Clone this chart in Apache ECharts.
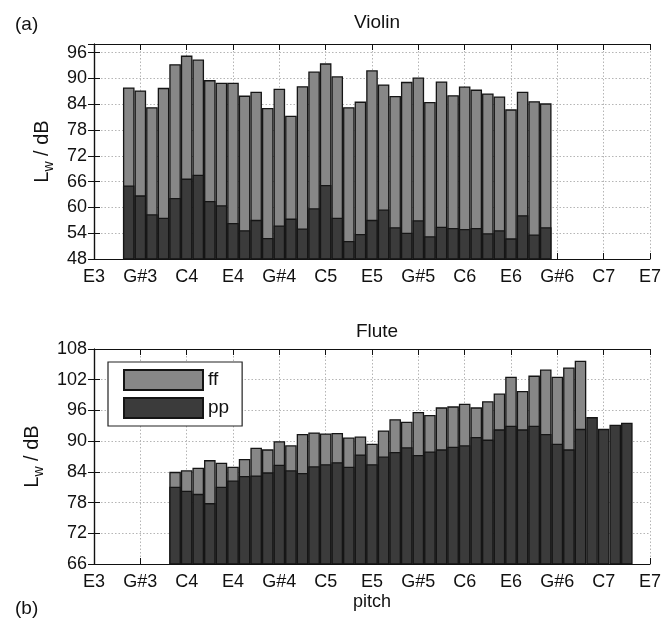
<!DOCTYPE html>
<html>
<head>
<meta charset="utf-8">
<script src="https://cdn.jsdelivr.net/npm/echarts@6/dist/echarts.min.js"></script>
<style>
  html, body { margin: 0; padding: 0; background: #fff; }
  #chart { width: 664px; height: 623px; }
</style>
</head>
<body>
<div id="chart"></div>
<script>
// pitch axis: semitones above E3 (0 = E3 ... 48 = E7), ticks every 4 semitones
const pitchTicks = ["E3", "G#3", "C4", "E4", "G#4", "C5", "E5", "G#5", "C6", "E6", "G#6", "C7", "E7"];

// Violin: G3 .. G6
const violinStart = 3;
const violinFF = [87.9, 87.2, 83.3, 87.8, 93.3, 95.3, 94.4, 89.6, 89.0, 89.0,
  86.0, 86.9, 83.1, 87.6, 81.3, 88.2, 91.6, 93.5, 90.5, 83.3,
  84.6, 91.9, 88.6, 85.9, 89.2, 90.2, 84.5, 89.3, 86.1, 88.1,
  87.4, 86.5, 85.8, 82.8, 86.9, 84.7, 84.2];
const violinPP = [65.1, 62.8, 58.4, 57.6, 62.2, 66.7, 67.6, 61.5, 60.5, 56.4,
  54.7, 57.1, 52.9, 55.8, 57.4, 55.1, 59.8, 65.2, 57.6, 52.2,
  53.8, 57.1, 59.5, 55.4, 54.1, 57.0, 53.3, 55.5, 55.2, 55.0,
  55.2, 54.0, 54.7, 52.8, 58.2, 53.7, 55.4];

// Flute: B3 .. D7 (ff only up to A#6)
const fluteStart = 7;
const fluteFF = [84.0, 84.3, 84.8, 86.3, 85.8, 85.0, 86.5, 88.7, 88.4, 90.0,
  89.2, 91.4, 91.7, 91.5, 91.6, 90.7, 90.9, 89.5, 92.1, 94.3,
  93.8, 95.7, 95.1, 96.6, 96.8, 97.3, 96.6, 97.8, 99.3, 102.6,
  99.8, 102.8, 104.0, 102.6, 104.4, 105.7];
const flutePP = [81.1, 80.3, 79.7, 77.9, 81.1, 82.3, 83.2, 83.3, 83.9, 85.4,
  84.3, 83.8, 85.1, 85.5, 85.9, 85.0, 87.4, 85.5, 87.0, 87.9,
  88.8, 87.3, 88.0, 88.4, 88.9, 89.2, 90.8, 90.3, 92.3, 93.0,
  92.3, 93.0, 91.4, 89.5, 88.4, 92.4, 94.7, 92.4, 93.2, 93.6];

const font = "Liberation Sans, Arial, sans-serif";
const plotLeft = 94, plotWidth = 556;
const barW = plotWidth / 48;

function pairs(start, arr) {
  return arr.map((v, i) => [start + i, v]);
}

const frame = { show: true, lineStyle: { color: "#111", width: 1.2 } };
const grid = { show: true, lineStyle: { color: "#b5b5b5", width: 1, type: [1.5, 2] } };
const tick = { show: true, inside: true, length: 6, lineStyle: { color: "#111", width: 1 } };

function xAxes(gi, withName) {
  return [
    {
      type: "value", gridIndex: gi, position: "bottom", min: 0, max: 48, interval: 4,
      axisLine: frame, axisTick: tick, splitLine: grid,
      axisLabel: {
        margin: 9, fontSize: 18, fontFamily: font, color: "#111",
        formatter: v => pitchTicks[v / 4]
      },
      name: withName ? "pitch" : "", nameLocation: "middle", nameGap: 29,
      nameTextStyle: { fontSize: 18, fontFamily: font, color: "#111" }
    },
    {
      type: "value", gridIndex: gi, position: "top", min: 0, max: 48, interval: 4,
      axisLine: frame, axisTick: tick, splitLine: { show: false }, axisLabel: { show: false }
    }
  ];
}

function yAxes(gi, min, max) {
  return [
    {
      type: "value", gridIndex: gi, position: "left", min: min, max: max, interval: 6,
      axisLine: frame, axisTick: tick, splitLine: grid,
      axisLabel: { margin: 7, fontSize: 18, fontFamily: font, color: "#111", showMaxLabel: max % 6 === 0 },
      name: "L{s|w} / dB", nameLocation: "middle", nameRotate: 90, nameGap: 56,
      nameTextStyle: {
        fontSize: 20, fontFamily: font, color: "#111", lineHeight: 27, verticalAlign: "top",
        rich: { s: { fontSize: 14, fontFamily: font, color: "#111", lineHeight: 27, verticalAlign: "bottom" } }
      }
    },
    {
      type: "value", gridIndex: gi, position: "right", min: min, max: max, interval: 6,
      axisLine: frame, axisTick: tick, splitLine: { show: false }, axisLabel: { show: false }
    }
  ];
}

const ffStyle = { color: "#878787", borderColor: "#151515", borderWidth: 1.3 };
const ppStyle = { color: "#3b3b3b", borderColor: "#151515", borderWidth: 1.3 };

function barSeries(name, xi, yi, start, arr, style) {
  return {
    name: name, type: "bar", xAxisIndex: xi, yAxisIndex: yi,
    data: pairs(start, arr), barWidth: barW, barGap: "-100%",
    itemStyle: style, animation: false, silent: true
  };
}

const chart = echarts.init(document.getElementById("chart"), null, { renderer: "canvas" });
chart.setOption({
  backgroundColor: "#fff",
  animation: false,
  textStyle: { fontFamily: font },
  title: [
    { text: "Violin", left: 372, top: 8, textAlign: "center",
      textStyle: { fontSize: 19, fontWeight: "normal", fontFamily: font, color: "#111" } },
    { text: "Flute", left: 372, top: 317, textAlign: "center",
      textStyle: { fontSize: 19, fontWeight: "normal", fontFamily: font, color: "#111" } },
    { text: "(a)", left: 10, top: 10,
      textStyle: { fontSize: 19, fontWeight: "normal", fontFamily: font, color: "#111" } },
    { text: "(b)", left: 10, top: 594,
      textStyle: { fontSize: 19, fontWeight: "normal", fontFamily: font, color: "#111" } }
  ],
  legend: {
    data: ["ff", "pp"], orient: "vertical", left: 108, top: 362,
    padding: [7, 13, 7, 15], itemWidth: 79, itemHeight: 20, itemGap: 6,
    borderColor: "#222", borderWidth: 1.2, backgroundColor: "#fff",
    icon: "rect", selectedMode: false,
    textStyle: { fontSize: 19, fontFamily: font, color: "#111" }
  },
  grid: [
    { left: plotLeft, top: 44, width: plotWidth, height: 215, show: false },
    { left: plotLeft, top: 349, width: plotWidth, height: 215, show: false }
  ],
  xAxis: [...xAxes(0, false), ...xAxes(1, true)],
  yAxis: [...yAxes(0, 48, 98), ...yAxes(1, 66, 108)],
  series: [
    barSeries("ff", 0, 0, violinStart, violinFF, ffStyle),
    barSeries("pp", 0, 0, violinStart, violinPP, ppStyle),
    barSeries("ff", 2, 2, fluteStart, fluteFF, ffStyle),
    barSeries("pp", 2, 2, fluteStart, flutePP, ppStyle)
  ]
});
</script>
</body>
</html>
